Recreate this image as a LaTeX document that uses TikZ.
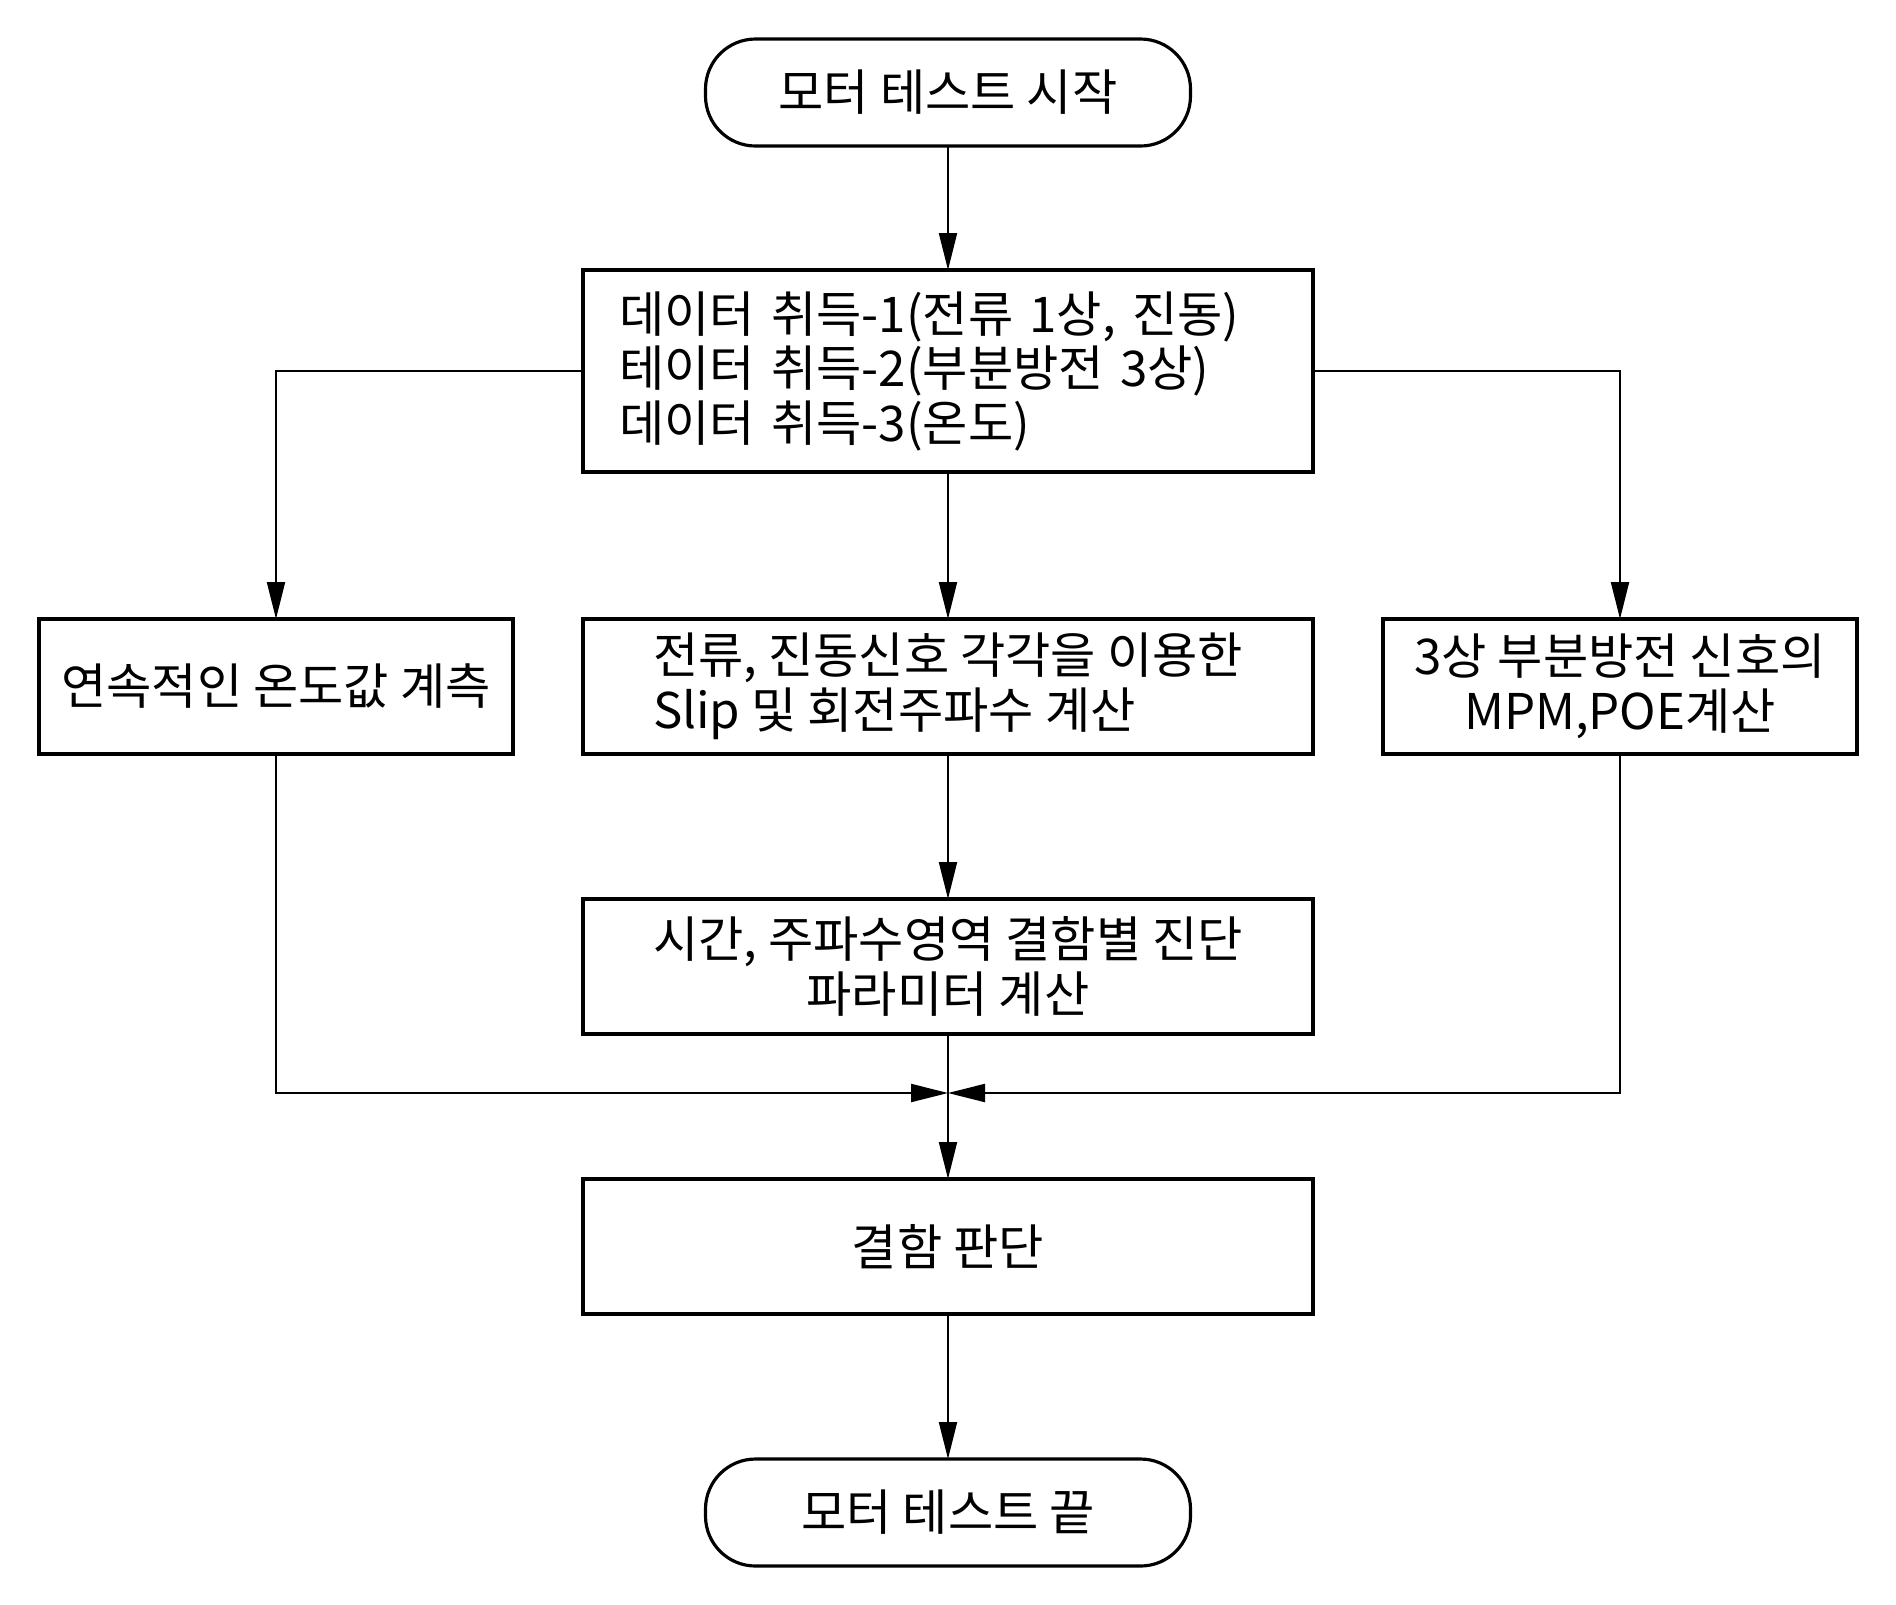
\documentclass[tikz,border=0pt]{standalone}
\usepackage{fontspec}
\setmainfont{Noto Sans CJK KR}
\usetikzlibrary{positioning,arrows.meta}

\begin{document}
\begin{tikzpicture}[%
    ->,
    >={Triangle[length=3.7mm,width=1.8mm]},
    line width=0.6pt,
    node distance=1.45cm,
    font=\fontsize{14pt}{15.5pt}\selectfont,
    terminal/.style={%
      rectangle,
      rounded corners=0.5cm,
      minimum width=4.85cm,
      minimum height=1.07cm,
      line width=0.9pt,
      outer sep=0pt,
      draw
    },
    procbox/.style={%
      rectangle,
      minimum width=7.3cm,
      minimum height=1.35cm,
      line width=0.9pt,
      outer sep=0pt,
      draw
    },
    sidebox/.style={%
      procbox,
      minimum width=4.74cm
    }
  ]
    \useasboundingbox (0,0) rectangle (18.96,-16.04);
    \node[terminal] (start) at (9.48,-0.925)                          {모터 테스트 시작};
    \node[procbox,minimum height=2.02cm,text width=6.58cm,align=left] (acq) [below=1.24cm of start]
      {데이터 취득-1(전류 1상, 진동)\\테이터 취득-2(부분방전 3상)\\데이터 취득-3(온도)};
    \node[procbox,align=left] (slip) [node distance=1.47cm,below=of acq]
      {전류, 진동신호 각각을 이용한\\Slip 및 회전주파수 계산};
    \node[sidebox] (temp) [left=0.7cm of slip]                         {연속적인 온도값 계측};
    \node[sidebox,align=center] (pd) [right=0.7cm of slip]             {3상 부분방전 신호의\\MPM,POE계산};
    \node[procbox,align=center] (param) [below=of slip]                {시간, 주파수영역 결함별 진단\\파라미터 계산};
    \coordinate[below=0.59cm of param] (merge);
    \node[procbox] (judge) [below=of param]                            {결함 판단};
    \node[terminal] (end) [below=of judge]                             {모터 테스트 끝};

    \path (start) edge                   node {} (acq)
          (acq)   edge                   node {} (slip)
          (slip)  edge                   node {} (param)
          (param) edge                   node {} (judge)
          (judge) edge                   node {} (end);
    \draw (acq.west) -| (temp.north);
    \draw (acq.east) -| (pd.north);
    \draw (temp.south) |- (merge);
    \draw (pd.south) |- (merge);
  \end{tikzpicture}
\end{document}
